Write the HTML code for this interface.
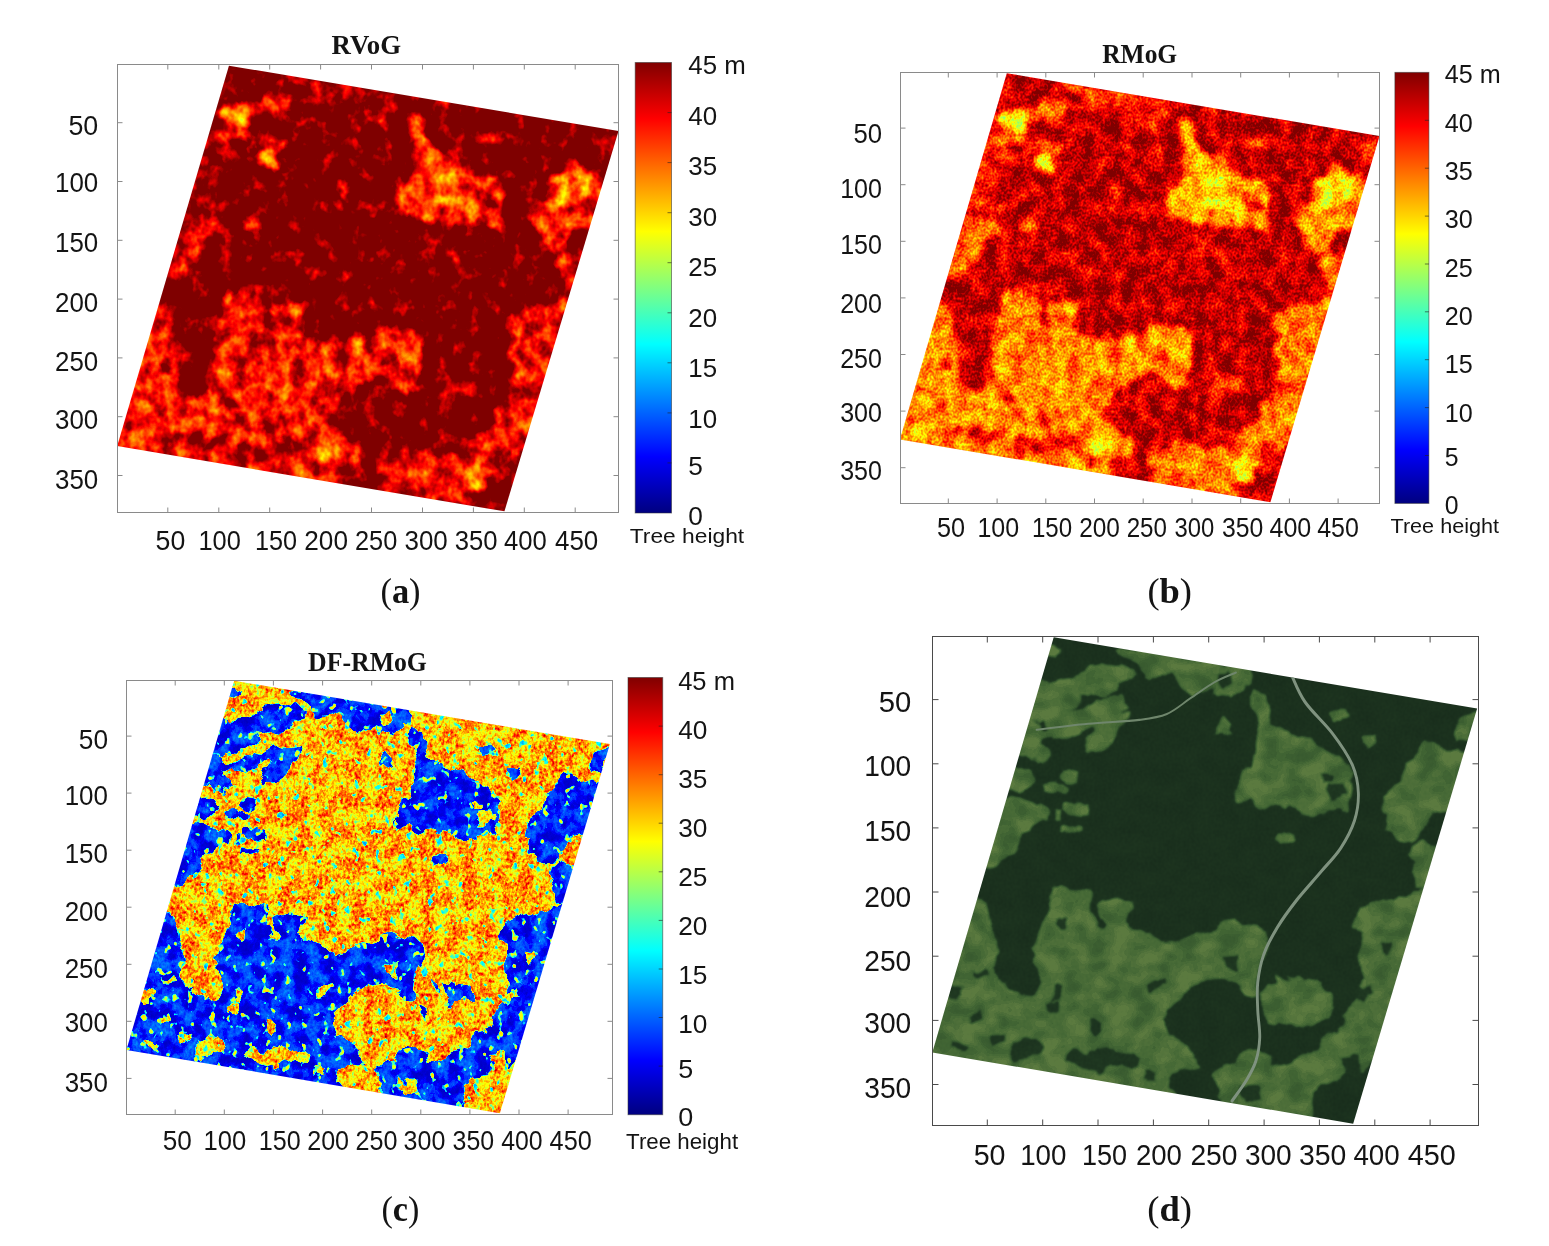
<!DOCTYPE html>
<html lang="en"><head><meta charset="utf-8"><title>Tree height inversion results</title>
<style>
html,body{margin:0;padding:0;background:#fff;}
svg{display:block;}
text{fill:#141414;}
.s{font-family:'Liberation Sans', sans-serif;}
.t{font-family:'Liberation Serif', serif;font-weight:bold;}
.c{font-family:'Liberation Serif', serif;}
</style></head><body>
<svg width="1549" height="1246" viewBox="0 0 1549 1246">
<defs>
<linearGradient id="jet" x1="0" y1="1" x2="0" y2="0">
<stop offset="0" stop-color="#000080"/><stop offset="0.125" stop-color="#0000ff"/><stop offset="0.25" stop-color="#0080ff"/>
<stop offset="0.375" stop-color="#00ffff"/><stop offset="0.5" stop-color="#80ff80"/><stop offset="0.625" stop-color="#ffff00"/>
<stop offset="0.75" stop-color="#ff8000"/><stop offset="0.875" stop-color="#ff0000"/><stop offset="1" stop-color="#800000"/>
</linearGradient>
<clipPath id="para"><polygon points="110.0,1.5 492.5,57.0 380.5,380.5 0.3,325.0"/></clipPath>

<filter id="fa" filterUnits="userSpaceOnUse" x="-5" y="-5" width="505" height="395" color-interpolation-filters="sRGB">
<feTurbulence type="fractalNoise" baseFrequency="0.06" numOctaves="3" seed="23" result="td"/>
<feDisplacementMap in="SourceGraphic" in2="td" scale="14" xChannelSelector="R" yChannelSelector="G" result="dm"/>
<feGaussianBlur in="dm" stdDeviation="2.4" result="b"/>
<feTurbulence type="fractalNoise" baseFrequency="0.07" numOctaves="3" seed="3" result="t1"/>
<feColorMatrix in="t1" type="matrix" values="1 0 0 0 0  1 0 0 0 0  1 0 0 0 0  0 0 0 0 1" result="g1"/>
<feTurbulence type="fractalNoise" baseFrequency="0.3" numOctaves="1" seed="10" result="t2"/>
<feColorMatrix in="t2" type="matrix" values="0 1 0 0 0  0 1 0 0 0  0 1 0 0 0  0 0 0 0 1" result="g2"/>
<feComposite in="b" in2="g1" operator="arithmetic" k1="0" k2="1" k3="0.41600000000000004" k4="-0.2080" result="h1"/>
<feComposite in="h1" in2="g2" operator="arithmetic" k1="0.0" k2="1.0000" k3="0.064" k4="-0.0320" result="h2"/>
<feComponentTransfer>
<feFuncR type="table" tableValues="0 0 0 0 .5 1 1 1 .5 .5 .5"/>
<feFuncG type="table" tableValues="0 0 .5 1 1 1 .5 0 0 0 0"/>
<feFuncB type="table" tableValues=".5 1 1 1 .5 0 0 0 0 0 0"/>
</feComponentTransfer>
</filter>
<filter id="fb" filterUnits="userSpaceOnUse" x="-5" y="-5" width="505" height="395" color-interpolation-filters="sRGB">
<feTurbulence type="fractalNoise" baseFrequency="0.06" numOctaves="3" seed="23" result="td"/>
<feDisplacementMap in="SourceGraphic" in2="td" scale="14" xChannelSelector="R" yChannelSelector="G" result="dm"/>
<feGaussianBlur in="dm" stdDeviation="2.4" result="b"/>
<feTurbulence type="fractalNoise" baseFrequency="0.07" numOctaves="3" seed="3" result="t1"/>
<feColorMatrix in="t1" type="matrix" values="1 0 0 0 0  1 0 0 0 0  1 0 0 0 0  0 0 0 0 1" result="g1"/>
<feTurbulence type="fractalNoise" baseFrequency="0.45" numOctaves="1" seed="10" result="t2"/>
<feColorMatrix in="t2" type="matrix" values="0 1 0 0 0  0 1 0 0 0  0 1 0 0 0  0 0 0 0 1" result="g2"/>
<feComposite in="b" in2="g1" operator="arithmetic" k1="0" k2="1" k3="0.272" k4="-0.1360" result="h1"/>
<feComposite in="h1" in2="g2" operator="arithmetic" k1="0.0" k2="1.0000" k3="0.24" k4="-0.1200" result="h2"/>
<feComponentTransfer>
<feFuncR type="table" tableValues="0 0 0 0 .5 1 1 1 .5 .5 .5"/>
<feFuncG type="table" tableValues="0 0 .5 1 1 1 .5 0 0 0 0"/>
<feFuncB type="table" tableValues=".5 1 1 1 .5 0 0 0 0 0 0"/>
</feComponentTransfer>
</filter>
<filter id="fc" filterUnits="userSpaceOnUse" x="-5" y="-5" width="505" height="395" color-interpolation-filters="sRGB">
<feTurbulence type="fractalNoise" baseFrequency="0.06" numOctaves="3" seed="31" result="td"/>
<feDisplacementMap in="SourceGraphic" in2="td" scale="16" xChannelSelector="R" yChannelSelector="G" result="dm"/>
<feGaussianBlur in="dm" stdDeviation="0.35" result="b"/>
<feTurbulence type="fractalNoise" baseFrequency="0.07" numOctaves="3" seed="11" result="t1"/>
<feColorMatrix in="t1" type="matrix" values="1 0 0 0 0  1 0 0 0 0  1 0 0 0 0  0 0 0 0 1" result="g1"/>
<feComponentTransfer in="g1" result="g1"><feFuncR type="discrete" tableValues="0.25 0.25 0.25 0.25 0.28 0.33 0.42 0.58 0.67 0.72 0.75 0.75 0.75 0.75"/><feFuncG type="discrete" tableValues="0.25 0.25 0.25 0.25 0.28 0.33 0.42 0.58 0.67 0.72 0.75 0.75 0.75 0.75"/><feFuncB type="discrete" tableValues="0.25 0.25 0.25 0.25 0.28 0.33 0.42 0.58 0.67 0.72 0.75 0.75 0.75 0.75"/></feComponentTransfer>
<feTurbulence type="fractalNoise" baseFrequency="0.33" numOctaves="2" seed="18" result="t2"/>
<feColorMatrix in="t2" type="matrix" values="0 1 0 0 0  0 1 0 0 0  0 1 0 0 0  0 0 0 0 1" result="g2"/>
<feComposite in="b" in2="g1" operator="arithmetic" k1="0" k2="1" k3="0.24" k4="-0.1200" result="h1"/>
<feComposite in="h1" in2="g2" operator="arithmetic" k1="0.68" k2="0.6600" k3="0.0" k4="-0.0000" result="h2"/>
<feComponentTransfer in="h2" result="fl"><feFuncR type="linear" slope="-0.5" intercept="0.56"/><feFuncG type="linear" slope="-0.5" intercept="0.56"/><feFuncB type="linear" slope="-0.5" intercept="0.56"/></feComponentTransfer><feTurbulence type="fractalNoise" baseFrequency="0.13" numOctaves="2" seed="51" result="t3"/><feColorMatrix in="t3" type="matrix" values="0 0 0 0 0  0 0 0 0 0  0 0 0 0 0  0 0 1 0 0" result="m3"/><feComponentTransfer in="m3" result="s3"><feFuncA type="table" tableValues="0 0 0 0 0 0 0 0 0 0 0 0 0 0 .6 1 1 1 1 1 1"/></feComponentTransfer><feComposite in="fl" in2="s3" operator="in" result="sp"/><feComposite in="sp" in2="h2" operator="over" result="h3"/><feComponentTransfer>
<feFuncR type="table" tableValues="0 0 0 0 .5 1 1 1 .5 .5 .5"/>
<feFuncG type="table" tableValues="0 0 .5 1 1 1 .5 0 0 0 0"/>
<feFuncB type="table" tableValues=".5 1 1 1 .5 0 0 0 0 0 0"/>
</feComponentTransfer>
</filter>
<filter id="fd" filterUnits="userSpaceOnUse" x="-5" y="-5" width="505" height="395" color-interpolation-filters="sRGB">
<feTurbulence type="fractalNoise" baseFrequency="0.06" numOctaves="3" seed="31" result="td"/>
<feDisplacementMap in="SourceGraphic" in2="td" scale="10" xChannelSelector="R" yChannelSelector="G" result="dm"/>
<feGaussianBlur in="dm" stdDeviation="0.8" result="b"/>
<feTurbulence type="fractalNoise" baseFrequency="0.05 0.07" numOctaves="2" seed="5" result="t1"/>
<feColorMatrix in="t1" type="matrix" values="1 0 0 0 0  1 0 0 0 0  1 0 0 0 0  0 0 0 0 1" result="g1c"/>
<feComponentTransfer in="g1c" result="g1"><feFuncR type="discrete" tableValues="0.3 0.3 0.3 0.34 0.42 0.5 0.56 0.64 0.72 0.8 0.8 0.8"/><feFuncG type="discrete" tableValues="0.3 0.3 0.3 0.34 0.42 0.5 0.56 0.64 0.72 0.8 0.8 0.8"/><feFuncB type="discrete" tableValues="0.3 0.3 0.3 0.34 0.42 0.5 0.56 0.64 0.72 0.8 0.8 0.8"/></feComponentTransfer>
<feTurbulence type="fractalNoise" baseFrequency="0.4" numOctaves="1" seed="9" result="t2"/>
<feColorMatrix in="t2" type="matrix" values="0 1 0 0 0  0 1 0 0 0  0 1 0 0 0  0 0 0 0 1" result="g2"/>
<feComposite in="b" in2="g1" operator="arithmetic" k1="1.2" k2="0.4" k3="0" k4="0" result="h1"/>
<feComposite in="h1" in2="g2" operator="arithmetic" k1="0" k2="1" k3="0.12" k4="-0.06" result="h"/>
<feComponentTransfer in="h">
<feFuncR type="table" tableValues="0.09 0.13 0.20 0.26 0.36"/>
<feFuncG type="table" tableValues="0.165 0.23 0.33 0.40 0.48"/>
<feFuncB type="table" tableValues="0.105 0.135 0.175 0.205 0.25"/>
</feComponentTransfer>
</filter>
</defs>
<rect width="1549" height="1246" fill="#fff"/>
<g transform="matrix(1.0185 0 0 1.176 116.9 63.9)">
<g clip-path="url(#para)">
<g filter="url(#fa)">
<rect x="-5" y="-5" width="505" height="395" fill="#d6d6d6"/>
<g fill="#b0b0b0">
<polygon fill="#c3c3c3" points="107.7,6.2 115.8,9.3 114.0,16.3 105.0,17.9 100.5,16.3"/>
<polygon fill="#c0c0c0" points="95.0,34.1 111.3,35.6 125.7,34.1 141.9,25.6 152.7,24.0 181.4,27.1 186.8,31.0 168.8,35.6 166.2,43.4 158.1,47.3 143.7,44.9 136.5,45.7 132.0,51.9 125.7,57.3 114.9,61.2 105.9,63.5 97.9,68.1 83.5,68.1"/>
<polygon fill="#c1c1c1" points="83.8,67.7 97.9,69.7 100.5,72.8 114.9,72.0 125.7,68.9 138.3,62.7 150.9,58.1 161.7,62.0 179.6,59.6 176.9,64.3 168.8,68.9 166.2,75.1 163.5,84.4 156.3,89.8 141.9,91.4 139.2,87.5 141.9,80.5 147.3,74.3 143.7,71.2 136.5,75.1 125.7,78.2 111.3,79.7 100.5,79.0 97.9,84.4 105.9,90.6 106.8,95.2 100.5,99.9 93.4,97.5 84.4,95.2 74.7,93.7"/>
<polygon fill="#b8b8b8" points="72.7,101.4 88.0,103.7 91.6,109.1 89.8,115.3 84.4,120.0 79.0,121.5 65.7,120.0"/>
<polygon fill="#b6b6b6" points="63.7,126.2 80.8,126.2 93.4,129.3 100.5,132.4 105.9,137.0 104.1,143.2 97.0,145.5 89.8,149.4 84.4,155.6 80.8,163.3 75.4,171.0 68.2,175.7 59.2,178.8 51.1,181.1 45.2,180.3"/>
<polygon fill="#b8b8b8" points="167.1,8.6 213.8,15.5 215.6,28.7 208.4,31.8 197.6,33.3 193.1,28.7 186.8,24.0 177.8,19.4 168.8,16.3"/>
<polygon fill="#c3c3c3" points="117.6,105.3 132.0,107.6 131.1,114.6 122.1,114.6 116.7,110.7"/>
<polygon fill="#c3c3c3" points="101.4,116.1 111.3,114.6 122.1,117.7 120.3,123.1 107.7,123.1 100.5,121.5"/>
<polygon fill="#c3c3c3" points="120.3,130.0 141.9,131.6 140.1,139.3 125.7,140.1 118.5,137.0"/>
<polygon fill="#c3c3c3" points="110.4,135.5 116.7,136.2 115.8,143.2 111.3,142.4"/>
<polygon fill="#c3c3c3" points="116.7,148.6 136.5,147.8 137.4,153.2 123.9,155.6 115.8,154.0"/>
<polygon fill="#c5c5c5" points="211.0,13.2 244.2,18.6 289.2,25.6 286.5,38.0 276.6,44.2 267.6,47.3 258.6,48.8 253.2,45.7 251.4,39.5 244.2,42.6 235.2,47.3 226.2,41.1 220.9,31.8 211.0,25.6"/>
<polygon fill="#adadad" points="289.2,42.6 301.7,45.7 303.5,59.6 307.1,70.5 323.3,75.1 334.1,76.7 344.9,84.4 355.7,89.0 370.0,93.7 377.2,99.9 381.7,107.6 377.2,113.8 379.0,123.1 377.2,132.4 373.6,140.1 368.2,135.5 359.3,135.5 348.5,138.5 339.5,141.6 330.5,137.0 323.3,132.4 312.5,133.9 301.7,135.5 292.8,132.4 287.4,127.7 274.8,129.3 273.0,120.0 278.4,112.2 280.2,104.5 289.2,99.9 292.8,92.1 291.0,84.4 292.8,75.1 294.5,67.4 291.0,59.6 287.4,53.4"/>
<polygon fill="#c3c3c3" points="264.0,62.0 268.5,67.4 265.8,73.6 271.2,76.7 262.2,79.7 253.2,78.2 256.8,70.5"/>
<polygon fill="#c3c3c3" points="357.5,58.1 375.4,57.3 376.3,65.8 361.1,66.6"/>
<polygon fill="#c3c3c3" points="391.6,77.4 399.7,76.7 401.5,83.6 394.3,85.9 390.7,82.1"/>
<polygon fill="#b0b0b0" points="441.9,82.8 454.5,82.8 467.1,90.6 476.1,89.0 485.1,93.7 476.1,115.3 470.7,124.6 468.0,138.5 459.9,140.1 452.7,137.0 447.3,143.2 441.9,152.5 434.7,158.7 424.0,160.2 416.8,155.6 411.4,149.4 413.2,140.1 406.0,133.9 407.8,124.6 415.0,120.0 422.2,115.3 424.0,106.1 427.6,98.3 438.3,93.7 440.1,87.5"/>
<polygon fill="#b4b4b4" points="434.7,161.8 441.9,158.7 450.9,164.9 459.9,161.8 458.1,171.0 449.1,195.8 436.5,195.8 434.7,183.4 438.3,178.8 431.1,174.1 432.9,166.4"/>
<polygon fill="#bcbcbc" points="476.1,62.7 495.9,58.1 490.5,70.5 485.1,81.3 476.1,82.8 472.5,78.2 474.3,70.5"/>
<polygon fill="#c3c3c3" points="312.5,154.0 326.9,155.6 328.7,160.2 316.1,161.8 308.9,158.7"/>
<polygon fill="#b0b0b0" points="36.7,204.8 48.4,207.2 52.0,216.4 53.8,228.8 59.2,236.6 61.0,248.9 59.2,259.8 61.0,267.5 68.2,273.7 75.4,278.3 84.4,281.4 91.6,276.8 97.0,270.6 95.2,262.9 89.8,256.7 93.4,248.9 91.6,242.8 95.2,235.0 97.0,225.7 102.3,218.0 107.7,211.8 105.9,204.1 107.7,196.3 114.9,193.2 125.7,196.3 136.5,199.4 145.5,201.0 143.7,207.2 141.9,214.9 149.1,222.6 154.5,228.8 158.1,225.7 150.9,218.0 149.1,210.3 156.3,205.6 165.3,204.1 176.0,205.6 181.4,207.2 179.6,214.9 176.0,222.6 179.6,228.8 190.4,231.9 201.2,235.0 210.2,238.1 221.0,236.6 233.6,235.0 242.5,233.5 254.9,228.8 263.9,221.1 272.9,220.3 283.7,224.2 294.5,225.7 301.7,230.4 303.5,238.1 301.7,247.4 298.1,255.1 296.3,262.9 294.5,273.7 290.9,279.9 283.7,279.9 278.3,273.7 272.9,269.1 262.1,267.5 251.3,267.5 242.5,272.2 231.8,276.8 224.6,283.0 215.6,290.7 206.6,298.5 212.0,307.7 221.0,313.9 228.2,321.7 238.9,329.4 242.5,337.1 233.6,338.7 222.8,337.1 215.6,343.3 213.8,351.1 219.2,356.6 219.2,363.4 -7.3,330.2 -7.3,323.2 32.3,204.8"/>
<polygon fill="#b4b4b4" points="443.7,197.1 434.7,201.0 424.0,204.1 409.6,205.6 397.0,208.7 386.2,213.4 380.8,225.7 389.8,230.4 388.0,241.2 384.4,248.9 388.0,256.7 389.8,264.4 386.2,270.6 388.0,276.8 382.6,284.5 375.4,289.2 370.0,295.4 371.8,303.1 366.4,309.3 359.3,310.8 352.1,315.5 348.5,323.2 341.3,327.9 330.5,329.4 323.3,334.0 316.1,335.6 307.1,332.5 305.3,327.9 296.3,324.8 287.4,323.2 280.2,326.3 276.6,332.5 267.6,334.0 258.6,337.1 253.2,341.8 255.0,348.0 260.4,352.6 258.6,360.3 262.2,363.4 262.2,368.1 344.9,380.5 344.9,374.3 342.2,360.3 347.6,351.8 355.7,348.0 366.4,346.4 373.6,340.2 382.6,334.8 389.8,338.7 396.6,330.9 404.2,330.9 454.5,197.1"/>
<polygon fill="#c3c3c3" points="308.9,266.0 316.1,267.5 317.9,275.2 312.5,273.7"/>
<polygon fill="#c3c3c3" points="321.5,264.4 330.5,264.4 337.7,269.1 348.5,269.1 353.9,272.2 352.1,279.9 343.1,283.0 334.1,283.0 326.9,289.2 323.3,286.1 326.9,278.3 325.1,272.2"/>
<polygon fill="#c3c3c3" points="296.3,286.1 307.1,289.2 305.3,296.9 299.9,295.4"/>
</g>
<g fill="#c8c8c8">
<polygon points="355.7,116.1 371.8,115.3 374.5,124.6 361.1,126.9 354.8,121.5"/>
<polygon points="352.1,107.6 361.1,107.6 361.1,113.8 352.1,113.8"/>
<polygon points="258.6,29.5 269.4,28.7 271.2,38.0 262.2,41.8 257.7,36.4"/>
<polygon points="114.9,219.5 123.9,221.1 122.1,227.3 116.7,228.8 113.1,224.2"/>
<polygon points="122.1,324.8 129.3,321.7 140.1,323.2 150.9,320.1 161.7,321.7 172.4,323.2 183.2,324.8 188.6,329.4 186.8,337.1 179.6,338.7 168.8,335.6 158.1,338.7 150.9,343.3 143.7,338.7 136.5,337.1 125.7,335.6 120.3,330.9"/>
<polygon points="143.7,298.5 152.7,301.6 154.5,310.8 147.3,313.9 141.9,307.7"/>
<polygon points="104.1,289.2 114.9,286.1 116.7,292.3 107.7,295.4"/>
<polygon points="195.8,270.6 210.2,269.1 212.0,273.7 197.6,276.8"/>
<polygon points="71.8,317.0 84.4,313.9 100.5,318.6 97.0,326.3 86.2,329.4 75.4,332.5 71.8,327.9"/>
<polygon points="52.0,313.9 64.6,310.8 66.4,315.5 55.6,320.1"/>
<polygon points="16.1,273.7 25.1,276.8 23.3,283.0 14.3,283.0"/>
<polygon points="34.0,296.9 43.0,290.7 44.8,298.5 35.8,304.6"/>
<polygon points="37.6,259.8 50.2,259.8 52.0,264.4 39.4,266.0"/>
<polygon points="17.9,317.0 32.3,318.6 30.5,323.2 17.9,321.7"/>
<polygon points="194.0,338.7 203.0,340.2 201.2,348.0 192.2,346.4"/>
<polygon points="109.5,273.7 114.9,272.2 115.8,284.5 108.6,287.6"/>
<polygon points="263.9,250.5 276.5,249.7 277.6,259.8 265.9,260.5"/>
<polygon points="384.4,273.7 395.2,273.7 398.8,279.9 391.6,286.1 384.4,283.0"/>
<polygon points="406.0,238.1 415.0,239.7 413.2,247.4 406.0,245.8"/>
<polygon points="280.2,351.1 296.3,351.1 298.1,360.3 283.8,363.4 278.4,357.3"/>
<polygon points="368.2,329.4 386.2,327.9 388.0,341.8 373.6,343.3"/>
</g>
<g fill="#939393"><ellipse cx="116" cy="43" rx="15" ry="9"/><ellipse cx="150" cy="81" rx="9" ry="8"/><ellipse cx="318" cy="108" rx="22" ry="14"/><ellipse cx="445" cy="105" rx="18" ry="16"/><ellipse cx="205" cy="330" rx="14" ry="7"/><ellipse cx="355" cy="352" rx="12" ry="12"/><ellipse cx="20" cy="318" rx="10" ry="7"/><ellipse cx="262" cy="236" rx="8" ry="6"/></g>
</g></g></g>
<g transform="matrix(0.9745 0 0 1.132 899.6 71.5)">
<g clip-path="url(#para)">
<g filter="url(#fb)">
<rect x="-5" y="-5" width="505" height="395" fill="#bfbfbf"/>
<g fill="#969696">
<polygon fill="#aaaaaa" points="107.7,6.2 115.8,9.3 114.0,16.3 105.0,17.9 100.5,16.3"/>
<polygon fill="#a6a6a6" points="95.0,34.1 111.3,35.6 125.7,34.1 141.9,25.6 152.7,24.0 181.4,27.1 186.8,31.0 168.8,35.6 166.2,43.4 158.1,47.3 143.7,44.9 136.5,45.7 132.0,51.9 125.7,57.3 114.9,61.2 105.9,63.5 97.9,68.1 83.5,68.1"/>
<polygon fill="#a8a8a8" points="83.8,67.7 97.9,69.7 100.5,72.8 114.9,72.0 125.7,68.9 138.3,62.7 150.9,58.1 161.7,62.0 179.6,59.6 176.9,64.3 168.8,68.9 166.2,75.1 163.5,84.4 156.3,89.8 141.9,91.4 139.2,87.5 141.9,80.5 147.3,74.3 143.7,71.2 136.5,75.1 125.7,78.2 111.3,79.7 100.5,79.0 97.9,84.4 105.9,90.6 106.8,95.2 100.5,99.9 93.4,97.5 84.4,95.2 74.7,93.7"/>
<polygon fill="#9e9e9e" points="72.7,101.4 88.0,103.7 91.6,109.1 89.8,115.3 84.4,120.0 79.0,121.5 65.7,120.0"/>
<polygon fill="#9c9c9c" points="63.7,126.2 80.8,126.2 93.4,129.3 100.5,132.4 105.9,137.0 104.1,143.2 97.0,145.5 89.8,149.4 84.4,155.6 80.8,163.3 75.4,171.0 68.2,175.7 59.2,178.8 51.1,181.1 45.2,180.3"/>
<polygon fill="#9e9e9e" points="167.1,8.6 213.8,15.5 215.6,28.7 208.4,31.8 197.6,33.3 193.1,28.7 186.8,24.0 177.8,19.4 168.8,16.3"/>
<polygon fill="#aaaaaa" points="117.6,105.3 132.0,107.6 131.1,114.6 122.1,114.6 116.7,110.7"/>
<polygon fill="#aaaaaa" points="101.4,116.1 111.3,114.6 122.1,117.7 120.3,123.1 107.7,123.1 100.5,121.5"/>
<polygon fill="#aaaaaa" points="120.3,130.0 141.9,131.6 140.1,139.3 125.7,140.1 118.5,137.0"/>
<polygon fill="#aaaaaa" points="110.4,135.5 116.7,136.2 115.8,143.2 111.3,142.4"/>
<polygon fill="#aaaaaa" points="116.7,148.6 136.5,147.8 137.4,153.2 123.9,155.6 115.8,154.0"/>
<polygon fill="#acacac" points="211.0,13.2 244.2,18.6 289.2,25.6 286.5,38.0 276.6,44.2 267.6,47.3 258.6,48.8 253.2,45.7 251.4,39.5 244.2,42.6 235.2,47.3 226.2,41.1 220.9,31.8 211.0,25.6"/>
<polygon fill="#929292" points="289.2,42.6 301.7,45.7 303.5,59.6 307.1,70.5 323.3,75.1 334.1,76.7 344.9,84.4 355.7,89.0 370.0,93.7 377.2,99.9 381.7,107.6 377.2,113.8 379.0,123.1 377.2,132.4 373.6,140.1 368.2,135.5 359.3,135.5 348.5,138.5 339.5,141.6 330.5,137.0 323.3,132.4 312.5,133.9 301.7,135.5 292.8,132.4 287.4,127.7 274.8,129.3 273.0,120.0 278.4,112.2 280.2,104.5 289.2,99.9 292.8,92.1 291.0,84.4 292.8,75.1 294.5,67.4 291.0,59.6 287.4,53.4"/>
<polygon fill="#aaaaaa" points="264.0,62.0 268.5,67.4 265.8,73.6 271.2,76.7 262.2,79.7 253.2,78.2 256.8,70.5"/>
<polygon fill="#aaaaaa" points="357.5,58.1 375.4,57.3 376.3,65.8 361.1,66.6"/>
<polygon fill="#aaaaaa" points="391.6,77.4 399.7,76.7 401.5,83.6 394.3,85.9 390.7,82.1"/>
<polygon fill="#969696" points="441.9,82.8 454.5,82.8 467.1,90.6 476.1,89.0 485.1,93.7 476.1,115.3 470.7,124.6 468.0,138.5 459.9,140.1 452.7,137.0 447.3,143.2 441.9,152.5 434.7,158.7 424.0,160.2 416.8,155.6 411.4,149.4 413.2,140.1 406.0,133.9 407.8,124.6 415.0,120.0 422.2,115.3 424.0,106.1 427.6,98.3 438.3,93.7 440.1,87.5"/>
<polygon fill="#9a9a9a" points="434.7,161.8 441.9,158.7 450.9,164.9 459.9,161.8 458.1,171.0 449.1,195.8 436.5,195.8 434.7,183.4 438.3,178.8 431.1,174.1 432.9,166.4"/>
<polygon fill="#a2a2a2" points="476.1,62.7 495.9,58.1 490.5,70.5 485.1,81.3 476.1,82.8 472.5,78.2 474.3,70.5"/>
<polygon fill="#aaaaaa" points="312.5,154.0 326.9,155.6 328.7,160.2 316.1,161.8 308.9,158.7"/>
<polygon fill="#969696" points="36.7,204.8 48.4,207.2 52.0,216.4 53.8,228.8 59.2,236.6 61.0,248.9 59.2,259.8 61.0,267.5 68.2,273.7 75.4,278.3 84.4,281.4 91.6,276.8 97.0,270.6 95.2,262.9 89.8,256.7 93.4,248.9 91.6,242.8 95.2,235.0 97.0,225.7 102.3,218.0 107.7,211.8 105.9,204.1 107.7,196.3 114.9,193.2 125.7,196.3 136.5,199.4 145.5,201.0 143.7,207.2 141.9,214.9 149.1,222.6 154.5,228.8 158.1,225.7 150.9,218.0 149.1,210.3 156.3,205.6 165.3,204.1 176.0,205.6 181.4,207.2 179.6,214.9 176.0,222.6 179.6,228.8 190.4,231.9 201.2,235.0 210.2,238.1 221.0,236.6 233.6,235.0 242.5,233.5 254.9,228.8 263.9,221.1 272.9,220.3 283.7,224.2 294.5,225.7 301.7,230.4 303.5,238.1 301.7,247.4 298.1,255.1 296.3,262.9 294.5,273.7 290.9,279.9 283.7,279.9 278.3,273.7 272.9,269.1 262.1,267.5 251.3,267.5 242.5,272.2 231.8,276.8 224.6,283.0 215.6,290.7 206.6,298.5 212.0,307.7 221.0,313.9 228.2,321.7 238.9,329.4 242.5,337.1 233.6,338.7 222.8,337.1 215.6,343.3 213.8,351.1 219.2,356.6 219.2,363.4 -7.3,330.2 -7.3,323.2 32.3,204.8"/>
<polygon fill="#9a9a9a" points="443.7,197.1 434.7,201.0 424.0,204.1 409.6,205.6 397.0,208.7 386.2,213.4 380.8,225.7 389.8,230.4 388.0,241.2 384.4,248.9 388.0,256.7 389.8,264.4 386.2,270.6 388.0,276.8 382.6,284.5 375.4,289.2 370.0,295.4 371.8,303.1 366.4,309.3 359.3,310.8 352.1,315.5 348.5,323.2 341.3,327.9 330.5,329.4 323.3,334.0 316.1,335.6 307.1,332.5 305.3,327.9 296.3,324.8 287.4,323.2 280.2,326.3 276.6,332.5 267.6,334.0 258.6,337.1 253.2,341.8 255.0,348.0 260.4,352.6 258.6,360.3 262.2,363.4 262.2,368.1 344.9,380.5 344.9,374.3 342.2,360.3 347.6,351.8 355.7,348.0 366.4,346.4 373.6,340.2 382.6,334.8 389.8,338.7 396.6,330.9 404.2,330.9 454.5,197.1"/>
<polygon fill="#aaaaaa" points="308.9,266.0 316.1,267.5 317.9,275.2 312.5,273.7"/>
<polygon fill="#aaaaaa" points="321.5,264.4 330.5,264.4 337.7,269.1 348.5,269.1 353.9,272.2 352.1,279.9 343.1,283.0 334.1,283.0 326.9,289.2 323.3,286.1 326.9,278.3 325.1,272.2"/>
<polygon fill="#aaaaaa" points="296.3,286.1 307.1,289.2 305.3,296.9 299.9,295.4"/>
</g>
<g fill="#b4b4b4">
<polygon points="355.7,116.1 371.8,115.3 374.5,124.6 361.1,126.9 354.8,121.5"/>
<polygon points="352.1,107.6 361.1,107.6 361.1,113.8 352.1,113.8"/>
<polygon points="258.6,29.5 269.4,28.7 271.2,38.0 262.2,41.8 257.7,36.4"/>
<polygon points="114.9,219.5 123.9,221.1 122.1,227.3 116.7,228.8 113.1,224.2"/>
<polygon points="122.1,324.8 129.3,321.7 140.1,323.2 150.9,320.1 161.7,321.7 172.4,323.2 183.2,324.8 188.6,329.4 186.8,337.1 179.6,338.7 168.8,335.6 158.1,338.7 150.9,343.3 143.7,338.7 136.5,337.1 125.7,335.6 120.3,330.9"/>
<polygon points="143.7,298.5 152.7,301.6 154.5,310.8 147.3,313.9 141.9,307.7"/>
<polygon points="104.1,289.2 114.9,286.1 116.7,292.3 107.7,295.4"/>
<polygon points="195.8,270.6 210.2,269.1 212.0,273.7 197.6,276.8"/>
<polygon points="71.8,317.0 84.4,313.9 100.5,318.6 97.0,326.3 86.2,329.4 75.4,332.5 71.8,327.9"/>
<polygon points="52.0,313.9 64.6,310.8 66.4,315.5 55.6,320.1"/>
<polygon points="16.1,273.7 25.1,276.8 23.3,283.0 14.3,283.0"/>
<polygon points="34.0,296.9 43.0,290.7 44.8,298.5 35.8,304.6"/>
<polygon points="37.6,259.8 50.2,259.8 52.0,264.4 39.4,266.0"/>
<polygon points="17.9,317.0 32.3,318.6 30.5,323.2 17.9,321.7"/>
<polygon points="194.0,338.7 203.0,340.2 201.2,348.0 192.2,346.4"/>
<polygon points="109.5,273.7 114.9,272.2 115.8,284.5 108.6,287.6"/>
<polygon points="263.9,250.5 276.5,249.7 277.6,259.8 265.9,260.5"/>
<polygon points="384.4,273.7 395.2,273.7 398.8,279.9 391.6,286.1 384.4,283.0"/>
<polygon points="406.0,238.1 415.0,239.7 413.2,247.4 406.0,245.8"/>
<polygon points="280.2,351.1 296.3,351.1 298.1,360.3 283.8,363.4 278.4,357.3"/>
<polygon points="368.2,329.4 386.2,327.9 388.0,341.8 373.6,343.3"/>
</g>
<g fill="#7e7e7e"><ellipse cx="116" cy="43" rx="15" ry="9"/><ellipse cx="150" cy="81" rx="9" ry="8"/><ellipse cx="318" cy="108" rx="22" ry="14"/><ellipse cx="445" cy="105" rx="18" ry="16"/><ellipse cx="205" cy="330" rx="14" ry="7"/><ellipse cx="355" cy="352" rx="12" ry="12"/><ellipse cx="20" cy="318" rx="10" ry="7"/><ellipse cx="262" cy="236" rx="8" ry="6"/></g>
</g></g></g>
<g transform="matrix(0.9823 0 0 1.141 126.1 679.05)">
<g clip-path="url(#para)">
<g filter="url(#fc)">
<rect x="-5" y="-5" width="505" height="395" fill="#8f8f8f"/>
<g fill="#1f1f1f">
<polygon points="107.7,6.2 115.8,9.3 114.0,16.3 105.0,17.9 100.5,16.3"/>
<polygon points="95.0,34.1 111.3,35.6 125.7,34.1 141.9,25.6 152.7,24.0 181.4,27.1 186.8,31.0 168.8,35.6 166.2,43.4 158.1,47.3 143.7,44.9 136.5,45.7 132.0,51.9 125.7,57.3 114.9,61.2 105.9,63.5 97.9,68.1 83.5,68.1"/>
<polygon points="83.8,67.7 97.9,69.7 100.5,72.8 114.9,72.0 125.7,68.9 138.3,62.7 150.9,58.1 161.7,62.0 179.6,59.6 176.9,64.3 168.8,68.9 166.2,75.1 163.5,84.4 156.3,89.8 141.9,91.4 139.2,87.5 141.9,80.5 147.3,74.3 143.7,71.2 136.5,75.1 125.7,78.2 111.3,79.7 100.5,79.0 97.9,84.4 105.9,90.6 106.8,95.2 100.5,99.9 93.4,97.5 84.4,95.2 74.7,93.7"/>
<polygon points="72.7,101.4 88.0,103.7 91.6,109.1 89.8,115.3 84.4,120.0 79.0,121.5 65.7,120.0"/>
<polygon points="63.7,126.2 80.8,126.2 93.4,129.3 100.5,132.4 105.9,137.0 104.1,143.2 97.0,145.5 89.8,149.4 84.4,155.6 80.8,163.3 75.4,171.0 68.2,175.7 59.2,178.8 51.1,181.1 45.2,180.3"/>
<polygon points="167.1,8.6 213.8,15.5 215.6,28.7 208.4,31.8 197.6,33.3 193.1,28.7 186.8,24.0 177.8,19.4 168.8,16.3"/>
<polygon points="117.6,105.3 132.0,107.6 131.1,114.6 122.1,114.6 116.7,110.7"/>
<polygon points="101.4,116.1 111.3,114.6 122.1,117.7 120.3,123.1 107.7,123.1 100.5,121.5"/>
<polygon points="120.3,130.0 141.9,131.6 140.1,139.3 125.7,140.1 118.5,137.0"/>
<polygon points="110.4,135.5 116.7,136.2 115.8,143.2 111.3,142.4"/>
<polygon points="116.7,148.6 136.5,147.8 137.4,153.2 123.9,155.6 115.8,154.0"/>
<polygon points="211.0,13.2 244.2,18.6 289.2,25.6 286.5,38.0 276.6,44.2 267.6,47.3 258.6,48.8 253.2,45.7 251.4,39.5 244.2,42.6 235.2,47.3 226.2,41.1 220.9,31.8 211.0,25.6"/>
<polygon points="289.2,42.6 301.7,45.7 303.5,59.6 307.1,70.5 323.3,75.1 334.1,76.7 344.9,84.4 355.7,89.0 370.0,93.7 377.2,99.9 381.7,107.6 377.2,113.8 379.0,123.1 377.2,132.4 373.6,140.1 368.2,135.5 359.3,135.5 348.5,138.5 339.5,141.6 330.5,137.0 323.3,132.4 312.5,133.9 301.7,135.5 292.8,132.4 287.4,127.7 274.8,129.3 273.0,120.0 278.4,112.2 280.2,104.5 289.2,99.9 292.8,92.1 291.0,84.4 292.8,75.1 294.5,67.4 291.0,59.6 287.4,53.4"/>
<polygon points="264.0,62.0 268.5,67.4 265.8,73.6 271.2,76.7 262.2,79.7 253.2,78.2 256.8,70.5"/>
<polygon points="357.5,58.1 375.4,57.3 376.3,65.8 361.1,66.6"/>
<polygon points="391.6,77.4 399.7,76.7 401.5,83.6 394.3,85.9 390.7,82.1"/>
<polygon points="441.9,82.8 454.5,82.8 467.1,90.6 476.1,89.0 485.1,93.7 476.1,115.3 470.7,124.6 468.0,138.5 459.9,140.1 452.7,137.0 447.3,143.2 441.9,152.5 434.7,158.7 424.0,160.2 416.8,155.6 411.4,149.4 413.2,140.1 406.0,133.9 407.8,124.6 415.0,120.0 422.2,115.3 424.0,106.1 427.6,98.3 438.3,93.7 440.1,87.5"/>
<polygon points="434.7,161.8 441.9,158.7 450.9,164.9 459.9,161.8 458.1,171.0 449.1,195.8 436.5,195.8 434.7,183.4 438.3,178.8 431.1,174.1 432.9,166.4"/>
<polygon points="476.1,62.7 495.9,58.1 490.5,70.5 485.1,81.3 476.1,82.8 472.5,78.2 474.3,70.5"/>
<polygon points="312.5,154.0 326.9,155.6 328.7,160.2 316.1,161.8 308.9,158.7"/>
<polygon points="36.7,204.8 48.4,207.2 52.0,216.4 53.8,228.8 59.2,236.6 61.0,248.9 59.2,259.8 61.0,267.5 68.2,273.7 75.4,278.3 84.4,281.4 91.6,276.8 97.0,270.6 95.2,262.9 89.8,256.7 93.4,248.9 91.6,242.8 95.2,235.0 97.0,225.7 102.3,218.0 107.7,211.8 105.9,204.1 107.7,196.3 114.9,193.2 125.7,196.3 136.5,199.4 145.5,201.0 143.7,207.2 141.9,214.9 149.1,222.6 154.5,228.8 158.1,225.7 150.9,218.0 149.1,210.3 156.3,205.6 165.3,204.1 176.0,205.6 181.4,207.2 179.6,214.9 176.0,222.6 179.6,228.8 190.4,231.9 201.2,235.0 210.2,238.1 221.0,236.6 233.6,235.0 242.5,233.5 254.9,228.8 263.9,221.1 272.9,220.3 283.7,224.2 294.5,225.7 301.7,230.4 303.5,238.1 301.7,247.4 298.1,255.1 296.3,262.9 294.5,273.7 290.9,279.9 283.7,279.9 278.3,273.7 272.9,269.1 262.1,267.5 251.3,267.5 242.5,272.2 231.8,276.8 224.6,283.0 215.6,290.7 206.6,298.5 212.0,307.7 221.0,313.9 228.2,321.7 238.9,329.4 242.5,337.1 233.6,338.7 222.8,337.1 215.6,343.3 213.8,351.1 219.2,356.6 219.2,363.4 -7.3,330.2 -7.3,323.2 32.3,204.8"/>
<polygon points="443.7,197.1 434.7,201.0 424.0,204.1 409.6,205.6 397.0,208.7 386.2,213.4 380.8,225.7 389.8,230.4 388.0,241.2 384.4,248.9 388.0,256.7 389.8,264.4 386.2,270.6 388.0,276.8 382.6,284.5 375.4,289.2 370.0,295.4 371.8,303.1 366.4,309.3 359.3,310.8 352.1,315.5 348.5,323.2 341.3,327.9 330.5,329.4 323.3,334.0 316.1,335.6 307.1,332.5 305.3,327.9 296.3,324.8 287.4,323.2 280.2,326.3 276.6,332.5 267.6,334.0 258.6,337.1 253.2,341.8 255.0,348.0 260.4,352.6 258.6,360.3 262.2,363.4 262.2,368.1 344.9,380.5 344.9,374.3 342.2,360.3 347.6,351.8 355.7,348.0 366.4,346.4 373.6,340.2 382.6,334.8 389.8,338.7 396.6,330.9 404.2,330.9 454.5,197.1"/>
<polygon points="308.9,266.0 316.1,267.5 317.9,275.2 312.5,273.7"/>
<polygon points="321.5,264.4 330.5,264.4 337.7,269.1 348.5,269.1 353.9,272.2 352.1,279.9 343.1,283.0 334.1,283.0 326.9,289.2 323.3,286.1 326.9,278.3 325.1,272.2"/>
<polygon points="296.3,286.1 307.1,289.2 305.3,296.9 299.9,295.4"/>
</g>
<g fill="#8b8b8b">
<polygon points="355.7,116.1 371.8,115.3 374.5,124.6 361.1,126.9 354.8,121.5"/>
<polygon points="352.1,107.6 361.1,107.6 361.1,113.8 352.1,113.8"/>
<polygon points="258.6,29.5 269.4,28.7 271.2,38.0 262.2,41.8 257.7,36.4"/>
<polygon points="114.9,219.5 123.9,221.1 122.1,227.3 116.7,228.8 113.1,224.2"/>
<polygon points="122.1,324.8 129.3,321.7 140.1,323.2 150.9,320.1 161.7,321.7 172.4,323.2 183.2,324.8 188.6,329.4 186.8,337.1 179.6,338.7 168.8,335.6 158.1,338.7 150.9,343.3 143.7,338.7 136.5,337.1 125.7,335.6 120.3,330.9"/>
<polygon points="143.7,298.5 152.7,301.6 154.5,310.8 147.3,313.9 141.9,307.7"/>
<polygon points="104.1,289.2 114.9,286.1 116.7,292.3 107.7,295.4"/>
<polygon points="195.8,270.6 210.2,269.1 212.0,273.7 197.6,276.8"/>
<polygon points="71.8,317.0 84.4,313.9 100.5,318.6 97.0,326.3 86.2,329.4 75.4,332.5 71.8,327.9"/>
<polygon points="52.0,313.9 64.6,310.8 66.4,315.5 55.6,320.1"/>
<polygon points="16.1,273.7 25.1,276.8 23.3,283.0 14.3,283.0"/>
<polygon points="34.0,296.9 43.0,290.7 44.8,298.5 35.8,304.6"/>
<polygon points="37.6,259.8 50.2,259.8 52.0,264.4 39.4,266.0"/>
<polygon points="17.9,317.0 32.3,318.6 30.5,323.2 17.9,321.7"/>
<polygon points="194.0,338.7 203.0,340.2 201.2,348.0 192.2,346.4"/>
<polygon points="109.5,273.7 114.9,272.2 115.8,284.5 108.6,287.6"/>
<polygon points="263.9,250.5 276.5,249.7 277.6,259.8 265.9,260.5"/>
<polygon points="384.4,273.7 395.2,273.7 398.8,279.9 391.6,286.1 384.4,283.0"/>
<polygon points="406.0,238.1 415.0,239.7 413.2,247.4 406.0,245.8"/>
<polygon points="280.2,351.1 296.3,351.1 298.1,360.3 283.8,363.4 278.4,357.3"/>
<polygon points="368.2,329.4 386.2,327.9 388.0,341.8 373.6,343.3"/>
</g>

</g></g></g>
<g transform="matrix(1.107 0 0 1.283 931.95 635.45)">
<g clip-path="url(#para)">
<g filter="url(#fd)">
<rect x="-5" y="-5" width="505" height="395" fill="#1a1a1a"/>
<g fill="#cccccc">
<polygon points="107.7,6.2 115.8,9.3 114.0,16.3 105.0,17.9 100.5,16.3"/>
<polygon points="95.0,34.1 111.3,35.6 125.7,34.1 141.9,25.6 152.7,24.0 181.4,27.1 186.8,31.0 168.8,35.6 166.2,43.4 158.1,47.3 143.7,44.9 136.5,45.7 132.0,51.9 125.7,57.3 114.9,61.2 105.9,63.5 97.9,68.1 83.5,68.1"/>
<polygon points="83.8,67.7 97.9,69.7 100.5,72.8 114.9,72.0 125.7,68.9 138.3,62.7 150.9,58.1 161.7,62.0 179.6,59.6 176.9,64.3 168.8,68.9 166.2,75.1 163.5,84.4 156.3,89.8 141.9,91.4 139.2,87.5 141.9,80.5 147.3,74.3 143.7,71.2 136.5,75.1 125.7,78.2 111.3,79.7 100.5,79.0 97.9,84.4 105.9,90.6 106.8,95.2 100.5,99.9 93.4,97.5 84.4,95.2 74.7,93.7"/>
<polygon points="72.7,101.4 88.0,103.7 91.6,109.1 89.8,115.3 84.4,120.0 79.0,121.5 65.7,120.0"/>
<polygon points="63.7,126.2 80.8,126.2 93.4,129.3 100.5,132.4 105.9,137.0 104.1,143.2 97.0,145.5 89.8,149.4 84.4,155.6 80.8,163.3 75.4,171.0 68.2,175.7 59.2,178.8 51.1,181.1 45.2,180.3"/>
<polygon points="167.1,8.6 213.8,15.5 215.6,28.7 208.4,31.8 197.6,33.3 193.1,28.7 186.8,24.0 177.8,19.4 168.8,16.3"/>
<polygon points="117.6,105.3 132.0,107.6 131.1,114.6 122.1,114.6 116.7,110.7"/>
<polygon points="101.4,116.1 111.3,114.6 122.1,117.7 120.3,123.1 107.7,123.1 100.5,121.5"/>
<polygon points="120.3,130.0 141.9,131.6 140.1,139.3 125.7,140.1 118.5,137.0"/>
<polygon points="110.4,135.5 116.7,136.2 115.8,143.2 111.3,142.4"/>
<polygon points="116.7,148.6 136.5,147.8 137.4,153.2 123.9,155.6 115.8,154.0"/>
<polygon points="211.0,13.2 244.2,18.6 289.2,25.6 286.5,38.0 276.6,44.2 267.6,47.3 258.6,48.8 253.2,45.7 251.4,39.5 244.2,42.6 235.2,47.3 226.2,41.1 220.9,31.8 211.0,25.6"/>
<polygon points="289.2,42.6 301.7,45.7 303.5,59.6 307.1,70.5 323.3,75.1 334.1,76.7 344.9,84.4 355.7,89.0 370.0,93.7 377.2,99.9 381.7,107.6 377.2,113.8 379.0,123.1 377.2,132.4 373.6,140.1 368.2,135.5 359.3,135.5 348.5,138.5 339.5,141.6 330.5,137.0 323.3,132.4 312.5,133.9 301.7,135.5 292.8,132.4 287.4,127.7 274.8,129.3 273.0,120.0 278.4,112.2 280.2,104.5 289.2,99.9 292.8,92.1 291.0,84.4 292.8,75.1 294.5,67.4 291.0,59.6 287.4,53.4"/>
<polygon points="264.0,62.0 268.5,67.4 265.8,73.6 271.2,76.7 262.2,79.7 253.2,78.2 256.8,70.5"/>
<polygon points="357.5,58.1 375.4,57.3 376.3,65.8 361.1,66.6"/>
<polygon points="391.6,77.4 399.7,76.7 401.5,83.6 394.3,85.9 390.7,82.1"/>
<polygon points="441.9,82.8 454.5,82.8 467.1,90.6 476.1,89.0 485.1,93.7 476.1,115.3 470.7,124.6 468.0,138.5 459.9,140.1 452.7,137.0 447.3,143.2 441.9,152.5 434.7,158.7 424.0,160.2 416.8,155.6 411.4,149.4 413.2,140.1 406.0,133.9 407.8,124.6 415.0,120.0 422.2,115.3 424.0,106.1 427.6,98.3 438.3,93.7 440.1,87.5"/>
<polygon points="434.7,161.8 441.9,158.7 450.9,164.9 459.9,161.8 458.1,171.0 449.1,195.8 436.5,195.8 434.7,183.4 438.3,178.8 431.1,174.1 432.9,166.4"/>
<polygon points="476.1,62.7 495.9,58.1 490.5,70.5 485.1,81.3 476.1,82.8 472.5,78.2 474.3,70.5"/>
<polygon points="312.5,154.0 326.9,155.6 328.7,160.2 316.1,161.8 308.9,158.7"/>
<polygon points="36.7,204.8 48.4,207.2 52.0,216.4 53.8,228.8 59.2,236.6 61.0,248.9 59.2,259.8 61.0,267.5 68.2,273.7 75.4,278.3 84.4,281.4 91.6,276.8 97.0,270.6 95.2,262.9 89.8,256.7 93.4,248.9 91.6,242.8 95.2,235.0 97.0,225.7 102.3,218.0 107.7,211.8 105.9,204.1 107.7,196.3 114.9,193.2 125.7,196.3 136.5,199.4 145.5,201.0 143.7,207.2 141.9,214.9 149.1,222.6 154.5,228.8 158.1,225.7 150.9,218.0 149.1,210.3 156.3,205.6 165.3,204.1 176.0,205.6 181.4,207.2 179.6,214.9 176.0,222.6 179.6,228.8 190.4,231.9 201.2,235.0 210.2,238.1 221.0,236.6 233.6,235.0 242.5,233.5 254.9,228.8 263.9,221.1 272.9,220.3 283.7,224.2 294.5,225.7 301.7,230.4 303.5,238.1 301.7,247.4 298.1,255.1 296.3,262.9 294.5,273.7 290.9,279.9 283.7,279.9 278.3,273.7 272.9,269.1 262.1,267.5 251.3,267.5 242.5,272.2 231.8,276.8 224.6,283.0 215.6,290.7 206.6,298.5 212.0,307.7 221.0,313.9 228.2,321.7 238.9,329.4 242.5,337.1 233.6,338.7 222.8,337.1 215.6,343.3 213.8,351.1 219.2,356.6 219.2,363.4 -7.3,330.2 -7.3,323.2 32.3,204.8"/>
<polygon points="443.7,197.1 434.7,201.0 424.0,204.1 409.6,205.6 397.0,208.7 386.2,213.4 380.8,225.7 389.8,230.4 388.0,241.2 384.4,248.9 388.0,256.7 389.8,264.4 386.2,270.6 388.0,276.8 382.6,284.5 375.4,289.2 370.0,295.4 371.8,303.1 366.4,309.3 359.3,310.8 352.1,315.5 348.5,323.2 341.3,327.9 330.5,329.4 323.3,334.0 316.1,335.6 307.1,332.5 305.3,327.9 296.3,324.8 287.4,323.2 280.2,326.3 276.6,332.5 267.6,334.0 258.6,337.1 253.2,341.8 255.0,348.0 260.4,352.6 258.6,360.3 262.2,363.4 262.2,368.1 344.9,380.5 344.9,374.3 342.2,360.3 347.6,351.8 355.7,348.0 366.4,346.4 373.6,340.2 382.6,334.8 389.8,338.7 396.6,330.9 404.2,330.9 454.5,197.1"/>
<polygon points="308.9,266.0 316.1,267.5 317.9,275.2 312.5,273.7"/>
<polygon points="321.5,264.4 330.5,264.4 337.7,269.1 348.5,269.1 353.9,272.2 352.1,279.9 343.1,283.0 334.1,283.0 326.9,289.2 323.3,286.1 326.9,278.3 325.1,272.2"/>
<polygon points="296.3,286.1 307.1,289.2 305.3,296.9 299.9,295.4"/>
</g>
<g fill="#292929">
<polygon points="355.7,116.1 371.8,115.3 374.5,124.6 361.1,126.9 354.8,121.5"/>
<polygon points="352.1,107.6 361.1,107.6 361.1,113.8 352.1,113.8"/>
<polygon points="258.6,29.5 269.4,28.7 271.2,38.0 262.2,41.8 257.7,36.4"/>
<polygon points="114.9,219.5 123.9,221.1 122.1,227.3 116.7,228.8 113.1,224.2"/>
<polygon points="122.1,324.8 129.3,321.7 140.1,323.2 150.9,320.1 161.7,321.7 172.4,323.2 183.2,324.8 188.6,329.4 186.8,337.1 179.6,338.7 168.8,335.6 158.1,338.7 150.9,343.3 143.7,338.7 136.5,337.1 125.7,335.6 120.3,330.9"/>
<polygon points="143.7,298.5 152.7,301.6 154.5,310.8 147.3,313.9 141.9,307.7"/>
<polygon points="104.1,289.2 114.9,286.1 116.7,292.3 107.7,295.4"/>
<polygon points="195.8,270.6 210.2,269.1 212.0,273.7 197.6,276.8"/>
<polygon points="71.8,317.0 84.4,313.9 100.5,318.6 97.0,326.3 86.2,329.4 75.4,332.5 71.8,327.9"/>
<polygon points="52.0,313.9 64.6,310.8 66.4,315.5 55.6,320.1"/>
<polygon points="16.1,273.7 25.1,276.8 23.3,283.0 14.3,283.0"/>
<polygon points="34.0,296.9 43.0,290.7 44.8,298.5 35.8,304.6"/>
<polygon points="37.6,259.8 50.2,259.8 52.0,264.4 39.4,266.0"/>
<polygon points="17.9,317.0 32.3,318.6 30.5,323.2 17.9,321.7"/>
<polygon points="194.0,338.7 203.0,340.2 201.2,348.0 192.2,346.4"/>
<polygon points="109.5,273.7 114.9,272.2 115.8,284.5 108.6,287.6"/>
<polygon points="263.9,250.5 276.5,249.7 277.6,259.8 265.9,260.5"/>
<polygon points="384.4,273.7 395.2,273.7 398.8,279.9 391.6,286.1 384.4,283.0"/>
<polygon points="406.0,238.1 415.0,239.7 413.2,247.4 406.0,245.8"/>
<polygon points="280.2,351.1 296.3,351.1 298.1,360.3 283.8,363.4 278.4,357.3"/>
<polygon points="368.2,329.4 386.2,327.9 388.0,341.8 373.6,343.3"/>
</g>
<g fill="#cccccc"><polygon points="296,276 320,268 345,272 362,280 358,300 330,306 305,302 296,290"/><polygon points="100,62 125,58 150,50 170,46 178,56 160,66 135,76 108,80"/></g>
</g></g></g>
<g transform="matrix(1.107 0 0 1.283 931.95 635.45)" clip-path="url(#para)" fill="none" stroke-linejoin="round" stroke-linecap="round"><path d="M324.6 30.4C326.7 34.0 330.8 44.3 337.1 52.0C343.3 59.7 354.9 68.4 362.0 76.6C369.2 84.8 376.0 93.5 379.9 101.2C383.7 108.9 384.9 115.6 385.2 122.7C385.5 129.9 384.3 137.1 381.7 144.3C379.0 151.5 374.2 159.2 369.2 165.8C364.1 172.5 357.9 177.6 351.3 184.3C344.8 191.0 336.5 198.7 329.9 205.8C323.4 213.0 317.2 220.2 312.1 227.4C307.1 234.6 302.6 241.7 299.6 248.9C296.7 256.1 295.2 263.3 294.3 270.5C293.4 277.6 294.0 284.8 294.3 292.0C294.6 299.2 296.4 306.9 296.1 313.5C295.8 320.2 294.6 326.4 292.5 332.0C290.4 337.7 287.1 342.3 283.6 347.4C280.0 352.5 273.2 360.2 271.1 362.8" stroke="#7f927f" stroke-width="2.6"/><path d="M94.5 73.5C102.3 72.7 125.5 70.2 140.9 68.9C156.4 67.6 175.4 67.1 187.3 65.8C199.2 64.5 204.5 64.0 212.2 61.2C220.0 58.4 226.5 53.0 233.6 48.9C240.8 44.8 248.2 39.9 255.0 36.6C261.9 33.2 271.4 30.2 274.7 28.9" stroke="#6f866c" stroke-width="1.6"/></g>
<g stroke="#8a8a8a" stroke-width="1" fill="none">
<rect x="117.5" y="64.5" width="501.0" height="448.0"/>
<path d="M167.8 64.5v5M167.8 512.5v-5M218.8 64.5v5M218.8 512.5v-5M269.7 64.5v5M269.7 512.5v-5M320.6 64.5v5M320.6 512.5v-5M371.5 64.5v5M371.5 512.5v-5M422.5 64.5v5M422.5 512.5v-5M473.4 64.5v5M473.4 512.5v-5M524.3 64.5v5M524.3 512.5v-5M575.2 64.5v5M575.2 512.5v-5M117.5 122.7h5M618.5 122.7h-5M117.5 181.5h5M618.5 181.5h-5M117.5 240.3h5M618.5 240.3h-5M117.5 299.1h5M618.5 299.1h-5M117.5 357.9h5M618.5 357.9h-5M117.5 416.7h5M618.5 416.7h-5M117.5 475.5h5M618.5 475.5h-5"/>
</g>
<g stroke="#8a8a8a" stroke-width="1" fill="none">
<rect x="900.5" y="72.5" width="479.0" height="431.0"/>
<path d="M948.3 72.5v5M948.3 503.5v-5M997.1 72.5v5M997.1 503.5v-5M1045.8 72.5v5M1045.8 503.5v-5M1094.5 72.5v5M1094.5 503.5v-5M1143.2 72.5v5M1143.2 503.5v-5M1192.0 72.5v5M1192.0 503.5v-5M1240.7 72.5v5M1240.7 503.5v-5M1289.4 72.5v5M1289.4 503.5v-5M1338.1 72.5v5M1338.1 503.5v-5M900.5 128.1h5M1379.5 128.1h-5M900.5 184.7h5M1379.5 184.7h-5M900.5 241.3h5M1379.5 241.3h-5M900.5 297.9h5M1379.5 297.9h-5M900.5 354.5h5M1379.5 354.5h-5M900.5 411.1h5M1379.5 411.1h-5M900.5 467.7h5M1379.5 467.7h-5"/>
</g>
<g stroke="#8a8a8a" stroke-width="1" fill="none">
<rect x="126.5" y="680.5" width="486.0" height="434.0"/>
<path d="M175.2 680.5v5M175.2 1114.5v-5M224.3 680.5v5M224.3 1114.5v-5M273.4 680.5v5M273.4 1114.5v-5M322.6 680.5v5M322.6 1114.5v-5M371.7 680.5v5M371.7 1114.5v-5M420.8 680.5v5M420.8 1114.5v-5M469.9 680.5v5M469.9 1114.5v-5M519.0 680.5v5M519.0 1114.5v-5M568.1 680.5v5M568.1 1114.5v-5M126.5 736.1h5M612.5 736.1h-5M126.5 793.1h5M612.5 793.1h-5M126.5 850.2h5M612.5 850.2h-5M126.5 907.2h5M612.5 907.2h-5M126.5 964.3h5M612.5 964.3h-5M126.5 1021.3h5M612.5 1021.3h-5M126.5 1078.4h5M612.5 1078.4h-5"/>
</g>
<g stroke="#4a4a4a" stroke-width="1" fill="none">
<rect x="932.5" y="636.5" width="546.0" height="489.0"/>
<path d="M987.3 636.5v6M987.3 1125.5v-6M1042.7 636.5v6M1042.7 1125.5v-6M1098.0 636.5v6M1098.0 1125.5v-6M1153.4 636.5v6M1153.4 1125.5v-6M1208.7 636.5v6M1208.7 1125.5v-6M1264.1 636.5v6M1264.1 1125.5v-6M1319.4 636.5v6M1319.4 1125.5v-6M1374.8 636.5v6M1374.8 1125.5v-6M1430.1 636.5v6M1430.1 1125.5v-6M932.5 699.6h6M1478.5 699.6h-6M932.5 763.8h6M1478.5 763.8h-6M932.5 827.9h6M1478.5 827.9h-6M932.5 892.0h6M1478.5 892.0h-6M932.5 956.2h6M1478.5 956.2h-6M932.5 1020.4h6M1478.5 1020.4h-6M932.5 1084.5h6M1478.5 1084.5h-6"/>
</g>
<text class="s" x="68.4" y="135.0" font-size="27" textLength="29.8" lengthAdjust="spacingAndGlyphs">50</text>
<text class="s" x="55.0" y="192.4" font-size="27" textLength="43.2" lengthAdjust="spacingAndGlyphs">100</text>
<text class="s" x="55.0" y="252.4" font-size="27" textLength="43.2" lengthAdjust="spacingAndGlyphs">150</text>
<text class="s" x="55.0" y="312.4" font-size="27" textLength="43.2" lengthAdjust="spacingAndGlyphs">200</text>
<text class="s" x="55.0" y="371.4" font-size="27" textLength="43.2" lengthAdjust="spacingAndGlyphs">250</text>
<text class="s" x="55.0" y="428.9" font-size="27" textLength="43.2" lengthAdjust="spacingAndGlyphs">300</text>
<text class="s" x="55.0" y="488.9" font-size="27" textLength="43.2" lengthAdjust="spacingAndGlyphs">350</text>
<text class="s" x="155.6" y="549.5" font-size="27.3" textLength="29.7" lengthAdjust="spacingAndGlyphs">50</text>
<text class="s" x="198.4" y="549.5" font-size="27.3" textLength="42.4" lengthAdjust="spacingAndGlyphs">100</text>
<text class="s" x="254.9" y="549.5" font-size="27.3" textLength="42.1" lengthAdjust="spacingAndGlyphs">150</text>
<text class="s" x="304.3" y="549.5" font-size="27.3" textLength="43.7" lengthAdjust="spacingAndGlyphs">200</text>
<text class="s" x="355.0" y="549.5" font-size="27.3" textLength="42.3" lengthAdjust="spacingAndGlyphs">250</text>
<text class="s" x="404.5" y="549.5" font-size="27.3" textLength="43.3" lengthAdjust="spacingAndGlyphs">300</text>
<text class="s" x="454.7" y="549.5" font-size="27.3" textLength="42.8" lengthAdjust="spacingAndGlyphs">350</text>
<text class="s" x="504.0" y="549.5" font-size="27.3" textLength="42.8" lengthAdjust="spacingAndGlyphs">400</text>
<text class="s" x="555.0" y="549.5" font-size="27.3" textLength="43.3" lengthAdjust="spacingAndGlyphs">450</text>
<text class="s" x="853.4" y="142.6" font-size="27" textLength="28.6" lengthAdjust="spacingAndGlyphs">50</text>
<text class="s" x="840.2" y="197.5" font-size="27" textLength="41.8" lengthAdjust="spacingAndGlyphs">100</text>
<text class="s" x="840.2" y="253.9" font-size="27" textLength="41.8" lengthAdjust="spacingAndGlyphs">150</text>
<text class="s" x="840.2" y="312.6" font-size="27" textLength="41.8" lengthAdjust="spacingAndGlyphs">200</text>
<text class="s" x="840.2" y="368.2" font-size="27" textLength="41.8" lengthAdjust="spacingAndGlyphs">250</text>
<text class="s" x="840.2" y="421.6" font-size="27" textLength="41.8" lengthAdjust="spacingAndGlyphs">300</text>
<text class="s" x="840.2" y="479.6" font-size="27" textLength="41.8" lengthAdjust="spacingAndGlyphs">350</text>
<text class="s" x="937.0" y="537.3" font-size="27" textLength="28.1" lengthAdjust="spacingAndGlyphs">50</text>
<text class="s" x="977.4" y="537.3" font-size="27" textLength="41.7" lengthAdjust="spacingAndGlyphs">100</text>
<text class="s" x="1031.9" y="537.3" font-size="27" textLength="40.2" lengthAdjust="spacingAndGlyphs">150</text>
<text class="s" x="1079.2" y="537.3" font-size="27" textLength="40.7" lengthAdjust="spacingAndGlyphs">200</text>
<text class="s" x="1126.7" y="537.3" font-size="27" textLength="40.3" lengthAdjust="spacingAndGlyphs">250</text>
<text class="s" x="1174.5" y="537.3" font-size="27" textLength="39.8" lengthAdjust="spacingAndGlyphs">300</text>
<text class="s" x="1221.9" y="537.3" font-size="27" textLength="41.3" lengthAdjust="spacingAndGlyphs">350</text>
<text class="s" x="1269.5" y="537.3" font-size="27" textLength="41.8" lengthAdjust="spacingAndGlyphs">400</text>
<text class="s" x="1317.2" y="537.3" font-size="27" textLength="41.7" lengthAdjust="spacingAndGlyphs">450</text>
<text class="s" x="78.8" y="748.6" font-size="27" textLength="29.2" lengthAdjust="spacingAndGlyphs">50</text>
<text class="s" x="64.7" y="804.6" font-size="27" textLength="43.3" lengthAdjust="spacingAndGlyphs">100</text>
<text class="s" x="64.7" y="863.0" font-size="27" textLength="43.3" lengthAdjust="spacingAndGlyphs">150</text>
<text class="s" x="64.7" y="921.2" font-size="27" textLength="43.3" lengthAdjust="spacingAndGlyphs">200</text>
<text class="s" x="64.7" y="978.2" font-size="27" textLength="43.3" lengthAdjust="spacingAndGlyphs">250</text>
<text class="s" x="64.7" y="1032.2" font-size="27" textLength="43.3" lengthAdjust="spacingAndGlyphs">300</text>
<text class="s" x="64.7" y="1091.5" font-size="27" textLength="43.3" lengthAdjust="spacingAndGlyphs">350</text>
<text class="s" x="162.7" y="1149.8" font-size="27" textLength="29.1" lengthAdjust="spacingAndGlyphs">50</text>
<text class="s" x="203.6" y="1149.8" font-size="27" textLength="42.7" lengthAdjust="spacingAndGlyphs">100</text>
<text class="s" x="258.8" y="1149.8" font-size="27" textLength="41.9" lengthAdjust="spacingAndGlyphs">150</text>
<text class="s" x="307.2" y="1149.8" font-size="27" textLength="41.9" lengthAdjust="spacingAndGlyphs">200</text>
<text class="s" x="355.6" y="1149.8" font-size="27" textLength="42.0" lengthAdjust="spacingAndGlyphs">250</text>
<text class="s" x="403.6" y="1149.8" font-size="27" textLength="41.7" lengthAdjust="spacingAndGlyphs">300</text>
<text class="s" x="452.6" y="1149.8" font-size="27" textLength="41.6" lengthAdjust="spacingAndGlyphs">350</text>
<text class="s" x="501.2" y="1149.8" font-size="27" textLength="41.4" lengthAdjust="spacingAndGlyphs">400</text>
<text class="s" x="549.6" y="1149.8" font-size="27" textLength="42.2" lengthAdjust="spacingAndGlyphs">450</text>
<text class="s" x="878.8" y="712.4" font-size="29.7" textLength="32.5" lengthAdjust="spacingAndGlyphs">50</text>
<text class="s" x="864.3" y="775.9" font-size="29.7" textLength="47.0" lengthAdjust="spacingAndGlyphs">100</text>
<text class="s" x="864.3" y="841.0" font-size="29.7" textLength="47.0" lengthAdjust="spacingAndGlyphs">150</text>
<text class="s" x="864.3" y="907.4" font-size="29.7" textLength="47.0" lengthAdjust="spacingAndGlyphs">200</text>
<text class="s" x="864.3" y="971.2" font-size="29.7" textLength="47.0" lengthAdjust="spacingAndGlyphs">250</text>
<text class="s" x="864.3" y="1032.9" font-size="29.7" textLength="47.0" lengthAdjust="spacingAndGlyphs">300</text>
<text class="s" x="864.3" y="1098.4" font-size="29.7" textLength="47.0" lengthAdjust="spacingAndGlyphs">350</text>
<text class="s" x="973.7" y="1165.0" font-size="29.7" textLength="31.8" lengthAdjust="spacingAndGlyphs">50</text>
<text class="s" x="1020.2" y="1165.0" font-size="29.7" textLength="46.3" lengthAdjust="spacingAndGlyphs">100</text>
<text class="s" x="1081.9" y="1165.0" font-size="29.7" textLength="45.1" lengthAdjust="spacingAndGlyphs">150</text>
<text class="s" x="1135.9" y="1165.0" font-size="29.7" textLength="46.0" lengthAdjust="spacingAndGlyphs">200</text>
<text class="s" x="1190.4" y="1165.0" font-size="29.7" textLength="47.1" lengthAdjust="spacingAndGlyphs">250</text>
<text class="s" x="1244.9" y="1165.0" font-size="29.7" textLength="46.8" lengthAdjust="spacingAndGlyphs">300</text>
<text class="s" x="1298.9" y="1165.0" font-size="29.7" textLength="47.3" lengthAdjust="spacingAndGlyphs">350</text>
<text class="s" x="1353.4" y="1165.0" font-size="29.7" textLength="46.3" lengthAdjust="spacingAndGlyphs">400</text>
<text class="s" x="1407.8" y="1165.0" font-size="29.7" textLength="48.0" lengthAdjust="spacingAndGlyphs">450</text>
<rect x="635.2" y="62.5" width="36.3" height="450.5" fill="url(#jet)" stroke="#333" stroke-opacity=".55" stroke-width="1"/>
<path d="M671.5 112.6h-4M671.5 162.6h-4M671.5 212.7h-4M671.5 262.7h-4M671.5 312.8h-4M671.5 362.8h-4M671.5 412.9h-4M671.5 462.9h-4" stroke="#222" stroke-opacity=".6" stroke-width="1" fill="none"/>
<text class="s" x="688.3" y="73.9" font-size="26" textLength="57.5" lengthAdjust="spacingAndGlyphs">45 m</text>
<text class="s" x="688.3" y="124.5" font-size="26" textLength="28.8" lengthAdjust="spacingAndGlyphs">40</text>
<text class="s" x="688.3" y="175.1" font-size="26" textLength="28.8" lengthAdjust="spacingAndGlyphs">35</text>
<text class="s" x="688.3" y="226.1" font-size="26" textLength="28.8" lengthAdjust="spacingAndGlyphs">30</text>
<text class="s" x="688.3" y="276.4" font-size="26" textLength="28.8" lengthAdjust="spacingAndGlyphs">25</text>
<text class="s" x="688.3" y="326.7" font-size="26" textLength="28.8" lengthAdjust="spacingAndGlyphs">20</text>
<text class="s" x="688.3" y="376.9" font-size="26" textLength="28.8" lengthAdjust="spacingAndGlyphs">15</text>
<text class="s" x="688.3" y="427.6" font-size="26" textLength="28.8" lengthAdjust="spacingAndGlyphs">10</text>
<text class="s" x="688.3" y="475.3" font-size="26" textLength="14.6" lengthAdjust="spacingAndGlyphs">5</text>
<text class="s" x="688.3" y="524.8" font-size="26" textLength="14.6" lengthAdjust="spacingAndGlyphs">0</text>
<text class="s" x="629.8" y="543.3" font-size="20.6" textLength="114.4" lengthAdjust="spacingAndGlyphs">Tree height</text>
<rect x="1394.9" y="72.4" width="34.0" height="431.0" fill="url(#jet)" stroke="#333" stroke-opacity=".55" stroke-width="1"/>
<path d="M1428.9 120.3h-4M1428.9 168.2h-4M1428.9 216.1h-4M1428.9 264.0h-4M1428.9 311.8h-4M1428.9 359.7h-4M1428.9 407.6h-4M1428.9 455.5h-4" stroke="#222" stroke-opacity=".6" stroke-width="1" fill="none"/>
<text class="s" x="1444.8" y="83.2" font-size="25" textLength="55.9" lengthAdjust="spacingAndGlyphs">45 m</text>
<text class="s" x="1444.8" y="131.5" font-size="25" textLength="28.0" lengthAdjust="spacingAndGlyphs">40</text>
<text class="s" x="1444.8" y="179.9" font-size="25" textLength="28.0" lengthAdjust="spacingAndGlyphs">35</text>
<text class="s" x="1444.8" y="228.2" font-size="25" textLength="28.0" lengthAdjust="spacingAndGlyphs">30</text>
<text class="s" x="1444.8" y="276.6" font-size="25" textLength="28.0" lengthAdjust="spacingAndGlyphs">25</text>
<text class="s" x="1444.8" y="324.9" font-size="25" textLength="28.0" lengthAdjust="spacingAndGlyphs">20</text>
<text class="s" x="1444.8" y="373.2" font-size="25" textLength="28.0" lengthAdjust="spacingAndGlyphs">15</text>
<text class="s" x="1444.8" y="421.6" font-size="25" textLength="28.0" lengthAdjust="spacingAndGlyphs">10</text>
<text class="s" x="1444.8" y="465.9" font-size="25" textLength="13.8" lengthAdjust="spacingAndGlyphs">5</text>
<text class="s" x="1444.8" y="513.5" font-size="25" textLength="13.8" lengthAdjust="spacingAndGlyphs">0</text>
<text class="s" x="1390.5" y="533.2" font-size="20.0" textLength="108.5" lengthAdjust="spacingAndGlyphs">Tree height</text>
<rect x="628.0" y="677.5" width="34.7" height="437.2" fill="url(#jet)" stroke="#333" stroke-opacity=".55" stroke-width="1"/>
<path d="M662.7 726.1h-4M662.7 774.7h-4M662.7 823.2h-4M662.7 871.8h-4M662.7 920.4h-4M662.7 969.0h-4M662.7 1017.5h-4M662.7 1066.1h-4" stroke="#222" stroke-opacity=".6" stroke-width="1" fill="none"/>
<text class="s" x="678.2" y="690.1" font-size="26.3" textLength="56.7" lengthAdjust="spacingAndGlyphs">45 m</text>
<text class="s" x="678.2" y="739.1" font-size="26.3" textLength="29.2" lengthAdjust="spacingAndGlyphs">40</text>
<text class="s" x="678.2" y="788.0" font-size="26.3" textLength="29.2" lengthAdjust="spacingAndGlyphs">35</text>
<text class="s" x="678.2" y="837.0" font-size="26.3" textLength="29.2" lengthAdjust="spacingAndGlyphs">30</text>
<text class="s" x="678.2" y="885.9" font-size="26.3" textLength="29.2" lengthAdjust="spacingAndGlyphs">25</text>
<text class="s" x="678.2" y="934.9" font-size="26.3" textLength="29.2" lengthAdjust="spacingAndGlyphs">20</text>
<text class="s" x="678.2" y="983.8" font-size="26.3" textLength="29.2" lengthAdjust="spacingAndGlyphs">15</text>
<text class="s" x="678.2" y="1032.8" font-size="26.3" textLength="29.2" lengthAdjust="spacingAndGlyphs">10</text>
<text class="s" x="678.2" y="1077.9" font-size="26.3" textLength="15.0" lengthAdjust="spacingAndGlyphs">5</text>
<text class="s" x="678.2" y="1126.0" font-size="26.3" textLength="15.0" lengthAdjust="spacingAndGlyphs">0</text>
<text class="s" x="626.1" y="1148.8" font-size="21.2" textLength="112.0" lengthAdjust="spacingAndGlyphs">Tree height</text>
<text class="t" x="331.5" y="53.7" font-size="27" textLength="69.5" lengthAdjust="spacingAndGlyphs">RVoG</text>
<text class="t" x="1102.2" y="63.2" font-size="26.5" textLength="75.0" lengthAdjust="spacingAndGlyphs">RMoG</text>
<text class="t" x="308.1" y="670.8" font-size="26.5" textLength="118.8" lengthAdjust="spacingAndGlyphs">DF-RMoG</text>
<text class="c" x="380.4" y="603.2" font-size="36.5" textLength="40.2" lengthAdjust="spacingAndGlyphs">(<tspan font-weight="bold">a</tspan>)</text>
<text class="c" x="1147.4" y="602.8" font-size="36.5" textLength="44.6" lengthAdjust="spacingAndGlyphs">(<tspan font-weight="bold">b</tspan>)</text>
<text class="c" x="381.4" y="1221.0" font-size="36.5" textLength="37.9" lengthAdjust="spacingAndGlyphs">(<tspan font-weight="bold">c</tspan>)</text>
<text class="c" x="1147.2" y="1220.8" font-size="36.5" textLength="44.7" lengthAdjust="spacingAndGlyphs">(<tspan font-weight="bold">d</tspan>)</text>
</svg></body></html>
